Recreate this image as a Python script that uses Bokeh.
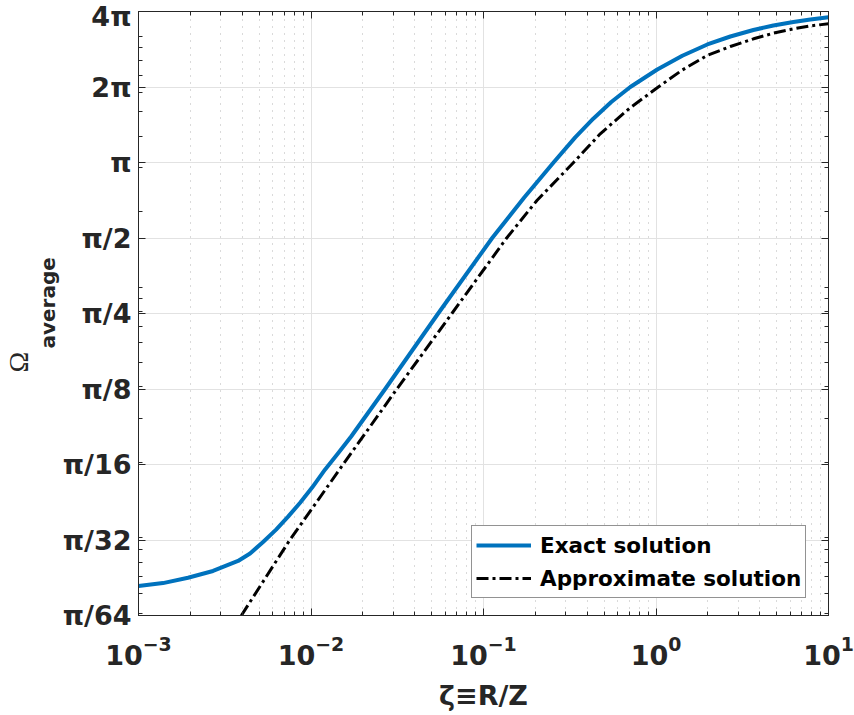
import numpy as np
from bokeh.plotting import figure
from bokeh.models import FixedTicker, LogAxis, LogTickFormatter, Title, CustomJSTickFormatter
from bokeh.embed import file_html
from bokeh.resources import INLINE

# Average solid angle (in units of pi) versus zeta = R/Z
zeta_exact = [0.001, 0.001387, 0.001937, 0.002704, 0.003777, 0.004434, 0.005275,
              0.006277, 0.007366, 0.008648, 0.01015, 0.01208, 0.01436, 0.01709,
              0.02691, 0.05459, 0.1123, 0.1722, 0.2547, 0.3402, 0.4328, 0.5504,
              0.7095, 1.017, 1.421, 1.984, 2.698, 3.667, 4.790, 6.257, 7.852, 10.0]
omega_exact = [0.02047, 0.02104, 0.02210, 0.02352, 0.02578, 0.02762, 0.03069,
               0.03438, 0.03873, 0.04400, 0.05055, 0.05976, 0.06924, 0.08084,
               0.125, 0.25, 0.5, 0.725, 1.0, 1.259, 1.495, 1.743,
               2.0, 2.349, 2.664, 2.955, 3.180, 3.375, 3.518, 3.632, 3.717, 3.797]

zeta_approx = [0.003947, 0.007534, 0.01535, 0.03146, 0.06557, 0.1363, 0.2040,
               0.3327, 0.4752, 0.6998, 1.031, 1.421, 1.976, 2.698, 3.682,
               4.790, 6.282, 7.852, 10.0]
omega_approx = [0.015625, 0.03125, 0.0625, 0.125, 0.25, 0.5, 0.7056,
                1.0, 1.3015, 1.642, 2.0, 2.338, 2.671, 2.901, 3.113,
                3.278, 3.412, 3.505, 3.573]

x_major = [1e-3, 1e-2, 1e-1, 1e0, 1e1]
y_major = [1 / 64, 1 / 32, 1 / 16, 1 / 8, 1 / 4, 1 / 2, 1.0, 2.0, 4.0]
y_labels = ["π/64", "π/32", "π/16", "π/8", "π/4", "π/2", "π", "2π", "4π"]

x_minor = [m * 10.0 ** e for e in range(-3, 1) for m in range(2, 10)]
y_minor = [m * 10.0 ** e / np.pi for e in range(-2, 2) for m in range(1, 10)
           if 1 / 64 < m * 10.0 ** e / np.pi < 4]

INK = "#262626"
FONT = "DejaVu Sans"

p = figure(width=854, height=715, x_axis_type="log", y_axis_type="log",
           x_range=(1e-3, 10), y_range=(1 / 64, 4),
           output_backend="svg", toolbar_location=None,
           min_border_left=130, min_border_right=26,
           min_border_top=11, min_border_bottom=100)
p.background_fill_color = "white"
p.border_fill_color = "white"
p.outline_line_color = INK
p.outline_line_width = 1

x_ticker = FixedTicker(ticks=x_major, minor_ticks=x_minor)
y_ticker = FixedTicker(ticks=y_major, minor_ticks=y_minor)


def style_axis(ax, ticker):
    ax.ticker = ticker
    ax.axis_line_color = INK
    ax.major_tick_line_color = INK
    ax.minor_tick_line_color = INK
    ax.major_tick_in = 7
    ax.major_tick_out = 0
    ax.minor_tick_in = 4
    ax.minor_tick_out = 0
    ax.major_label_text_font = FONT
    ax.major_label_text_font_style = "bold"
    ax.major_label_text_font_size = "27px"
    ax.major_label_text_color = INK


xa = p.xaxis[0]
style_axis(xa, x_ticker)
xa.formatter = LogTickFormatter()
xa.major_label_standoff = 20
xa.axis_label = "ζ≡R/Z"
xa.axis_label_text_font = FONT
xa.axis_label_text_font_style = "bold"
xa.axis_label_text_font_size = "27px"
xa.axis_label_text_color = INK
xa.axis_label_standoff = 12

ya = p.yaxis[0]
style_axis(ya, y_ticker)
ya.major_label_overrides = {v: t for v, t in zip(y_major, y_labels)}
ya.major_label_standoff = 7

# mirrored tick marks on the top and right edges, without labels
for loc, ticker in (("above", x_ticker), ("right", y_ticker)):
    ax = LogAxis()
    style_axis(ax, ticker)
    ax.formatter = CustomJSTickFormatter(code="return ' '")
    ax.major_label_text_font_size = "4px"
    ax.major_label_text_alpha = 0
    ax.major_label_standoff = 0
    p.add_layout(ax, loc)

# y title: "average" next to the axis, the Omega further out
p.add_layout(Title(text="average", align="left", offset=267, standoff=0,
                   text_font=FONT, text_font_style="bold", text_font_size="20px",
                   text_color=INK), "left")
p.add_layout(Title(text="Ω", align="left", offset=243, standoff=0,
                   text_font="Liberation Serif", text_font_style="normal",
                   text_font_size="28px", text_color=INK), "left")

p.xgrid.grid_line_color = "#e2e2e2"
p.xgrid.minor_grid_line_color = "#b4b4b4"
p.xgrid.minor_grid_line_dash = "1 6"
p.ygrid.grid_line_color = "#e2e2e2"
p.ygrid.minor_grid_line_color = None

p.line(zeta_exact, omega_exact, line_color="#0072BD", line_width=4,
       line_join="round", legend_label="Exact solution")
p.line(zeta_approx, omega_approx, line_color="black", line_width=3,
       line_dash="12 4 3 4", line_join="round", legend_label="Approximate solution")

lg = p.legend[0]
lg.location = (333, 17)
lg.margin = 0
lg.padding = 4
lg.spacing = 3
lg.glyph_width = 55
lg.glyph_height = 30
lg.label_height = 30
lg.label_standoff = 9
lg.label_text_font = FONT
lg.label_text_font_style = "bold"
lg.label_text_font_size = "21.5px"
lg.label_text_color = "black"
lg.border_line_color = INK
lg.border_line_width = 1
lg.background_fill_color = "white"
lg.background_fill_alpha = 1

open("out.html", "w").write(file_html(p, INLINE))
